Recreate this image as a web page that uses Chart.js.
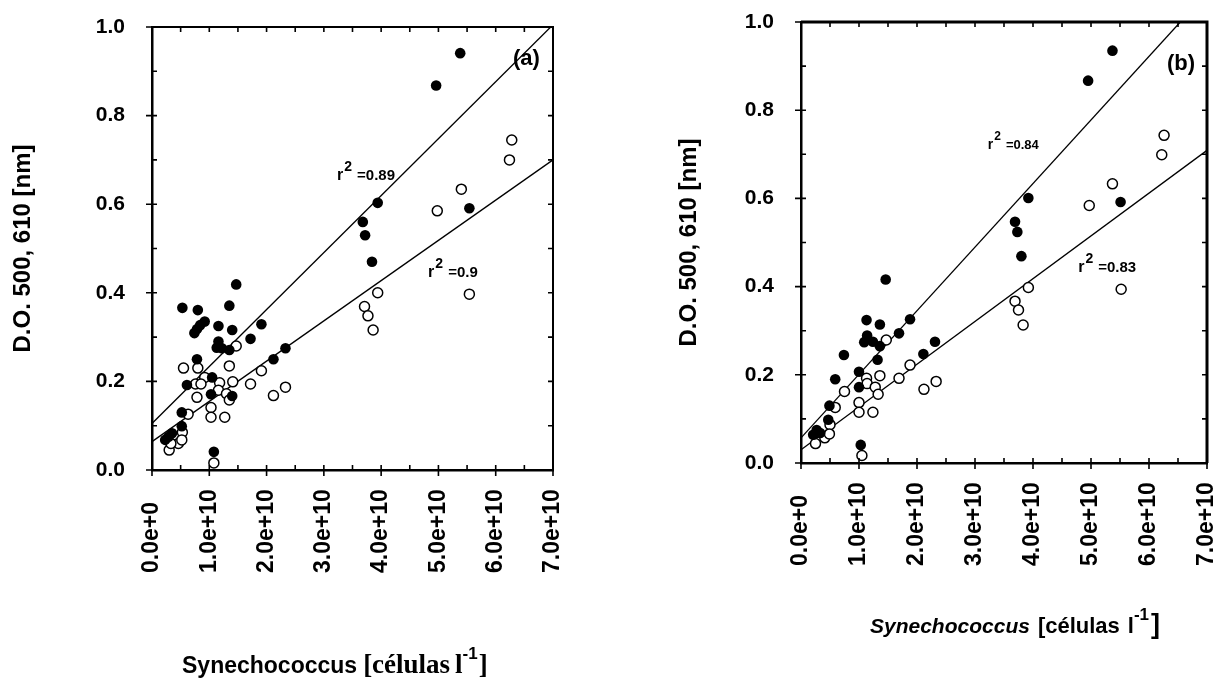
<!DOCTYPE html>
<html>
<head>
<meta charset="utf-8">
<script src="https://cdn.jsdelivr.net/npm/chart.js@4.4.1/dist/chart.umd.min.js"></script>
<style>
  body { margin: 0; background: #fff; width: 1226px; height: 683px; overflow: hidden; position: relative; }
  canvas { position: absolute; top: 0; }
  #chartA { left: 0; }
  #chartB { left: 620px; }
</style>
</head>
<body>
<canvas id="chartA" width="600" height="683"></canvas>
<canvas id="chartB" width="606" height="683"></canvas>
<script>
// x values are in units of 1e10 cells per litre
const E10 = 1e10;
const yTitle = 'D.O. 500, 610 [nm]';

// panel (a)
const aFullX = [1.47, 0.53, 0.80, 1.35, 0.92, 0.84, 0.785, 0.74, 1.16, 1.40, 1.91, 1.72, 1.16, 1.13, 1.22, 1.35, 0.785, 2.33, 2.12,
  0.61, 1.05, 1.03, 1.40, 0.52, 0.52, 0.35, 0.29, 0.23, 1.08, 5.38, 4.96, 3.94, 3.68, 3.72, 3.84, 5.54];
const aFullY = [0.419, 0.366, 0.361, 0.371, 0.335, 0.327, 0.318, 0.309, 0.325, 0.316, 0.329, 0.296, 0.29, 0.276, 0.275, 0.271, 0.25, 0.275, 0.25,
  0.192, 0.209, 0.171, 0.167, 0.13, 0.099, 0.083, 0.075, 0.068, 0.041, 0.941, 0.868, 0.603, 0.56, 0.53, 0.47, 0.591];
const aOpenX = [6.28, 6.24, 5.40, 4.98, 3.94, 3.71, 3.77, 3.86, 5.54, 0.55, 0.80, 1.35, 1.47, 0.92, 0.76, 0.855, 1.18, 1.16, 1.41, 1.72, 1.91,
  2.33, 2.12, 0.785, 1.30, 1.35, 1.03, 1.03, 1.27, 0.63, 0.53, 0.46, 0.30, 0.33, 0.52, 1.08];
const aOpenY = [0.745, 0.70, 0.634, 0.585, 0.40, 0.369, 0.348, 0.316, 0.397, 0.23, 0.23, 0.235, 0.28, 0.209, 0.194, 0.194, 0.197, 0.18, 0.199, 0.194, 0.224,
  0.187, 0.168, 0.164, 0.172, 0.158, 0.141, 0.119, 0.119, 0.126, 0.085, 0.06, 0.045, 0.06, 0.068, 0.016];
const aFitFullX = [0, 6.96];
const aFitFullY = [0.105, 1.0];
const aFitOpenX = [0, 7];
const aFitOpenY = [0.064, 0.70];

// panel (b)
const bFullX = [1.46, 1.13, 1.36, 1.88, 1.69, 1.14, 1.09, 1.24, 1.36, 0.74, 1.32, 2.31, 2.11, 1.00, 0.59, 1.00, 0.49, 0.47, 0.27, 0.33, 0.21,
  1.03, 5.37, 4.95, 3.92, 3.69, 3.73, 3.80, 5.51];
const bFullY = [0.416, 0.324, 0.314, 0.326, 0.294, 0.289, 0.274, 0.275, 0.265, 0.245, 0.234, 0.275, 0.247, 0.207, 0.19, 0.172, 0.13, 0.098, 0.075, 0.068, 0.064,
  0.041, 0.935, 0.867, 0.601, 0.547, 0.524, 0.469, 0.592];
const bOpenX = [1.47, 1.88, 1.69, 1.36, 1.13, 1.14, 1.28, 1.33, 2.12, 2.33, 0.75, 0.59, 1.00, 1.00, 1.24, 0.50, 0.41, 0.25, 0.49, 1.05,
  6.26, 6.22, 5.37, 4.97, 3.92, 3.69, 3.75, 3.83, 5.52];
const bOpenY = [0.279, 0.222, 0.192, 0.198, 0.192, 0.18, 0.172, 0.156, 0.167, 0.185, 0.162, 0.126, 0.137, 0.115, 0.115, 0.087, 0.057, 0.044, 0.066, 0.017,
  0.743, 0.699, 0.633, 0.584, 0.398, 0.367, 0.347, 0.313, 0.394];
const bFitFullX = [0, 6.54];
const bFitFullY = [0.057, 1.0];
const bFitOpenX = [0, 7];
const bFitOpenY = [0.03, 0.709];

const SANS = '"Liberation Sans", Arial, sans-serif';
const SERIF = '"Liberation Serif", "Times New Roman", serif';
Chart.defaults.font.family = SANS;
Chart.defaults.color = '#000';

function pts(xs, ys) {
  return xs.map((v, i) => ({ x: v * E10, y: ys[i] }));
}

// frame, tick marks, rotated x labels, r² notes, panel tag and x title
const deco = {
  id: 'deco',
  afterDraw(chart, args, o) {
    const { ctx, chartArea: a } = chart;
    const x = chart.scales.x, y = chart.scales.y;
    ctx.save();
    ctx.strokeStyle = '#000';
    ctx.fillStyle = '#000';
    ctx.lineWidth = o.frame;
    ctx.beginPath();
    ctx.moveTo(a.left, a.top);
    ctx.lineTo(a.right, a.top);
    ctx.lineTo(a.right, a.bottom);
    ctx.stroke();

    ctx.lineWidth = 1.6;
    ctx.beginPath();
    for (let i = 0; i <= 14; i++) {
      const px = x.getPixelForValue(i * 0.5 * E10), major = i % 2 === 0;
      ctx.moveTo(px, a.bottom + (major ? 6 : 0));
      ctx.lineTo(px, a.bottom - 5);
      ctx.moveTo(px, a.top);
      ctx.lineTo(px, a.top + 5);
    }
    for (let j = 0; j <= 10; j++) {
      const py = y.getPixelForValue(j / 10), major = j % 2 === 0;
      ctx.moveTo(a.left - (major ? 6 : 0), py);
      ctx.lineTo(a.left + 5, py);
      ctx.moveTo(a.right, py);
      ctx.lineTo(a.right - 5, py);
    }
    ctx.stroke();

    ctx.font = 'bold 23px ' + SANS;
    ctx.textAlign = 'left';
    ctx.textBaseline = 'middle';
    x.ticks.forEach(t => {
      ctx.save();
      ctx.translate(x.getPixelForValue(t.value), a.bottom + o.labelGap);
      ctx.rotate(-Math.PI / 2);
      ctx.fillText(t.value.toExponential(1), 0, 0);
      ctx.restore();
    });

    ctx.textBaseline = 'alphabetic';
    o.notes.forEach(n => {
      let px = x.getPixelForValue(n.x * E10);
      const py = y.getPixelForValue(n.y);
      ctx.font = 'bold ' + (n.size + 1) + 'px ' + SANS;
      ctx.fillText('r', px, py);
      px += ctx.measureText('r').width + 1;
      ctx.font = 'bold ' + (n.size - 1) + 'px ' + SANS;
      ctx.fillText('2', px, py - 9);
      px += ctx.measureText('2').width + 5;
      ctx.font = 'bold ' + n.size + 'px ' + SANS;
      ctx.fillText(n.text, px, py);
    });

    ctx.textBaseline = 'middle';
    ctx.font = 'bold 22px ' + SANS;
    ctx.fillText(o.tag.text, x.getPixelForValue(o.tag.x * E10), y.getPixelForValue(o.tag.y));

    ctx.textBaseline = 'alphabetic';
    let tx = o.title.x;
    o.title.segs.forEach(s => {
      tx += s.gap || 0;
      ctx.font = s.font;
      ctx.fillText(s.text, tx, o.title.y + (s.dy || 0));
      tx += ctx.measureText(s.text).width;
    });
    ctx.restore();
  }
};

function panel(id, o) {
  return new Chart(document.getElementById(id), {
    type: 'scatter',
    data: {
      datasets: [
        { data: pts(o.fullX, o.fullY), pointRadius: 5.3, backgroundColor: '#000', borderColor: '#000', borderWidth: 0, order: 1 },
        { data: pts(o.openX, o.openY), pointRadius: 5, backgroundColor: '#fff', borderColor: '#000', borderWidth: 1.5, order: 2 },
        { data: pts(o.fitFullX, o.fitFullY), showLine: true, pointRadius: 0, borderColor: '#000', borderWidth: 1.3, order: 3 },
        { data: pts(o.fitOpenX, o.fitOpenY), showLine: true, pointRadius: 0, borderColor: '#000', borderWidth: 1.3, order: 3 }
      ]
    },
    options: {
      responsive: false,
      animation: false,
      devicePixelRatio: 1,
      layout: { padding: { left: 0, right: o.padR, top: o.padT, bottom: o.padB } },
      plugins: {
        legend: { display: false },
        tooltip: { enabled: false },
        deco: o.deco
      },
      scales: {
        x: {
          type: 'linear', min: 0, max: 7 * E10,
          grid: { display: false },
          border: { color: '#000', width: 2.5 },
          ticks: { display: false, stepSize: E10 },
          afterFit: s => { s.height = 110; s.paddingLeft = 0; s.paddingRight = 0; }
        },
        y: {
          min: 0, max: 1,
          grid: { display: false },
          border: { color: '#000', width: 2.5 },
          ticks: { stepSize: 0.2, padding: 19, color: '#000', font: { size: 21, weight: 'bold' }, callback: v => v.toFixed(1) },
          title: { display: true, text: yTitle, color: '#000', font: { size: 24, weight: 'bold' }, padding: { top: o.titlePad, bottom: 0 } },
          afterFit: s => { s.width = o.yWidth; s.paddingTop = 0; s.paddingBottom = 0; }
        }
      }
    },
    plugins: [deco]
  });
}

panel('chartA', {
  fullX: aFullX, fullY: aFullY, openX: aOpenX, openY: aOpenY,
  fitFullX: aFitFullX, fitFullY: aFitFullY, fitOpenX: aFitOpenX, fitOpenY: aFitOpenY,
  yWidth: 152, padR: 47, padT: 27, padB: 103, titlePad: 9,
  deco: {
    frame: 2, labelGap: 103,
    notes: [
      { x: 3.23, y: 0.655, size: 15, text: '=0.89' },
      { x: 4.82, y: 0.436, size: 15, text: '=0.9' }
    ],
    tag: { x: 6.30, y: 0.928, text: '(a)' },
    title: {
      x: 182, y: 673,
      segs: [
        { text: 'Synechococcus', font: 'bold 23px ' + SANS },
        { text: '[células', font: 'bold 27px ' + SERIF, gap: 6 },
        { text: 'l', font: 'bold 27px ' + SERIF, gap: 5 },
        { text: '-1', font: 'bold 17px ' + SANS, dy: -14 },
        { text: ']', font: 'bold 27px ' + SERIF, gap: 1 }
      ]
    }
  }
});

panel('chartB', {
  fullX: bFullX, fullY: bFullY, openX: bOpenX, openY: bOpenY,
  fitFullX: bFitFullX, fitFullY: bFitFullY, fitOpenX: bFitOpenX, fitOpenY: bFitOpenY,
  yWidth: 181, padR: 19, padT: 22, padB: 110, titlePad: 55,
  deco: {
    frame: 3, labelGap: 103,
    notes: [
      { x: 3.22, y: 0.713, size: 13, text: '=0.84' },
      { x: 4.78, y: 0.433, size: 15, text: '=0.83' }
    ],
    tag: { x: 6.31, y: 0.906, text: '(b)' },
    title: {
      x: 250, y: 633,
      segs: [
        { text: 'Synechococcus', font: 'italic bold 21px ' + SANS },
        { text: '[células', font: 'bold 22px ' + SANS, gap: 8 },
        { text: 'l', font: 'bold 22px ' + SANS, gap: 8 },
        { text: '-1', font: 'bold 17px ' + SANS, dy: -13 },
        { text: ']', font: 'bold 27px ' + SANS, gap: 2 }
      ]
    }
  }
});
</script>
</body>
</html>
